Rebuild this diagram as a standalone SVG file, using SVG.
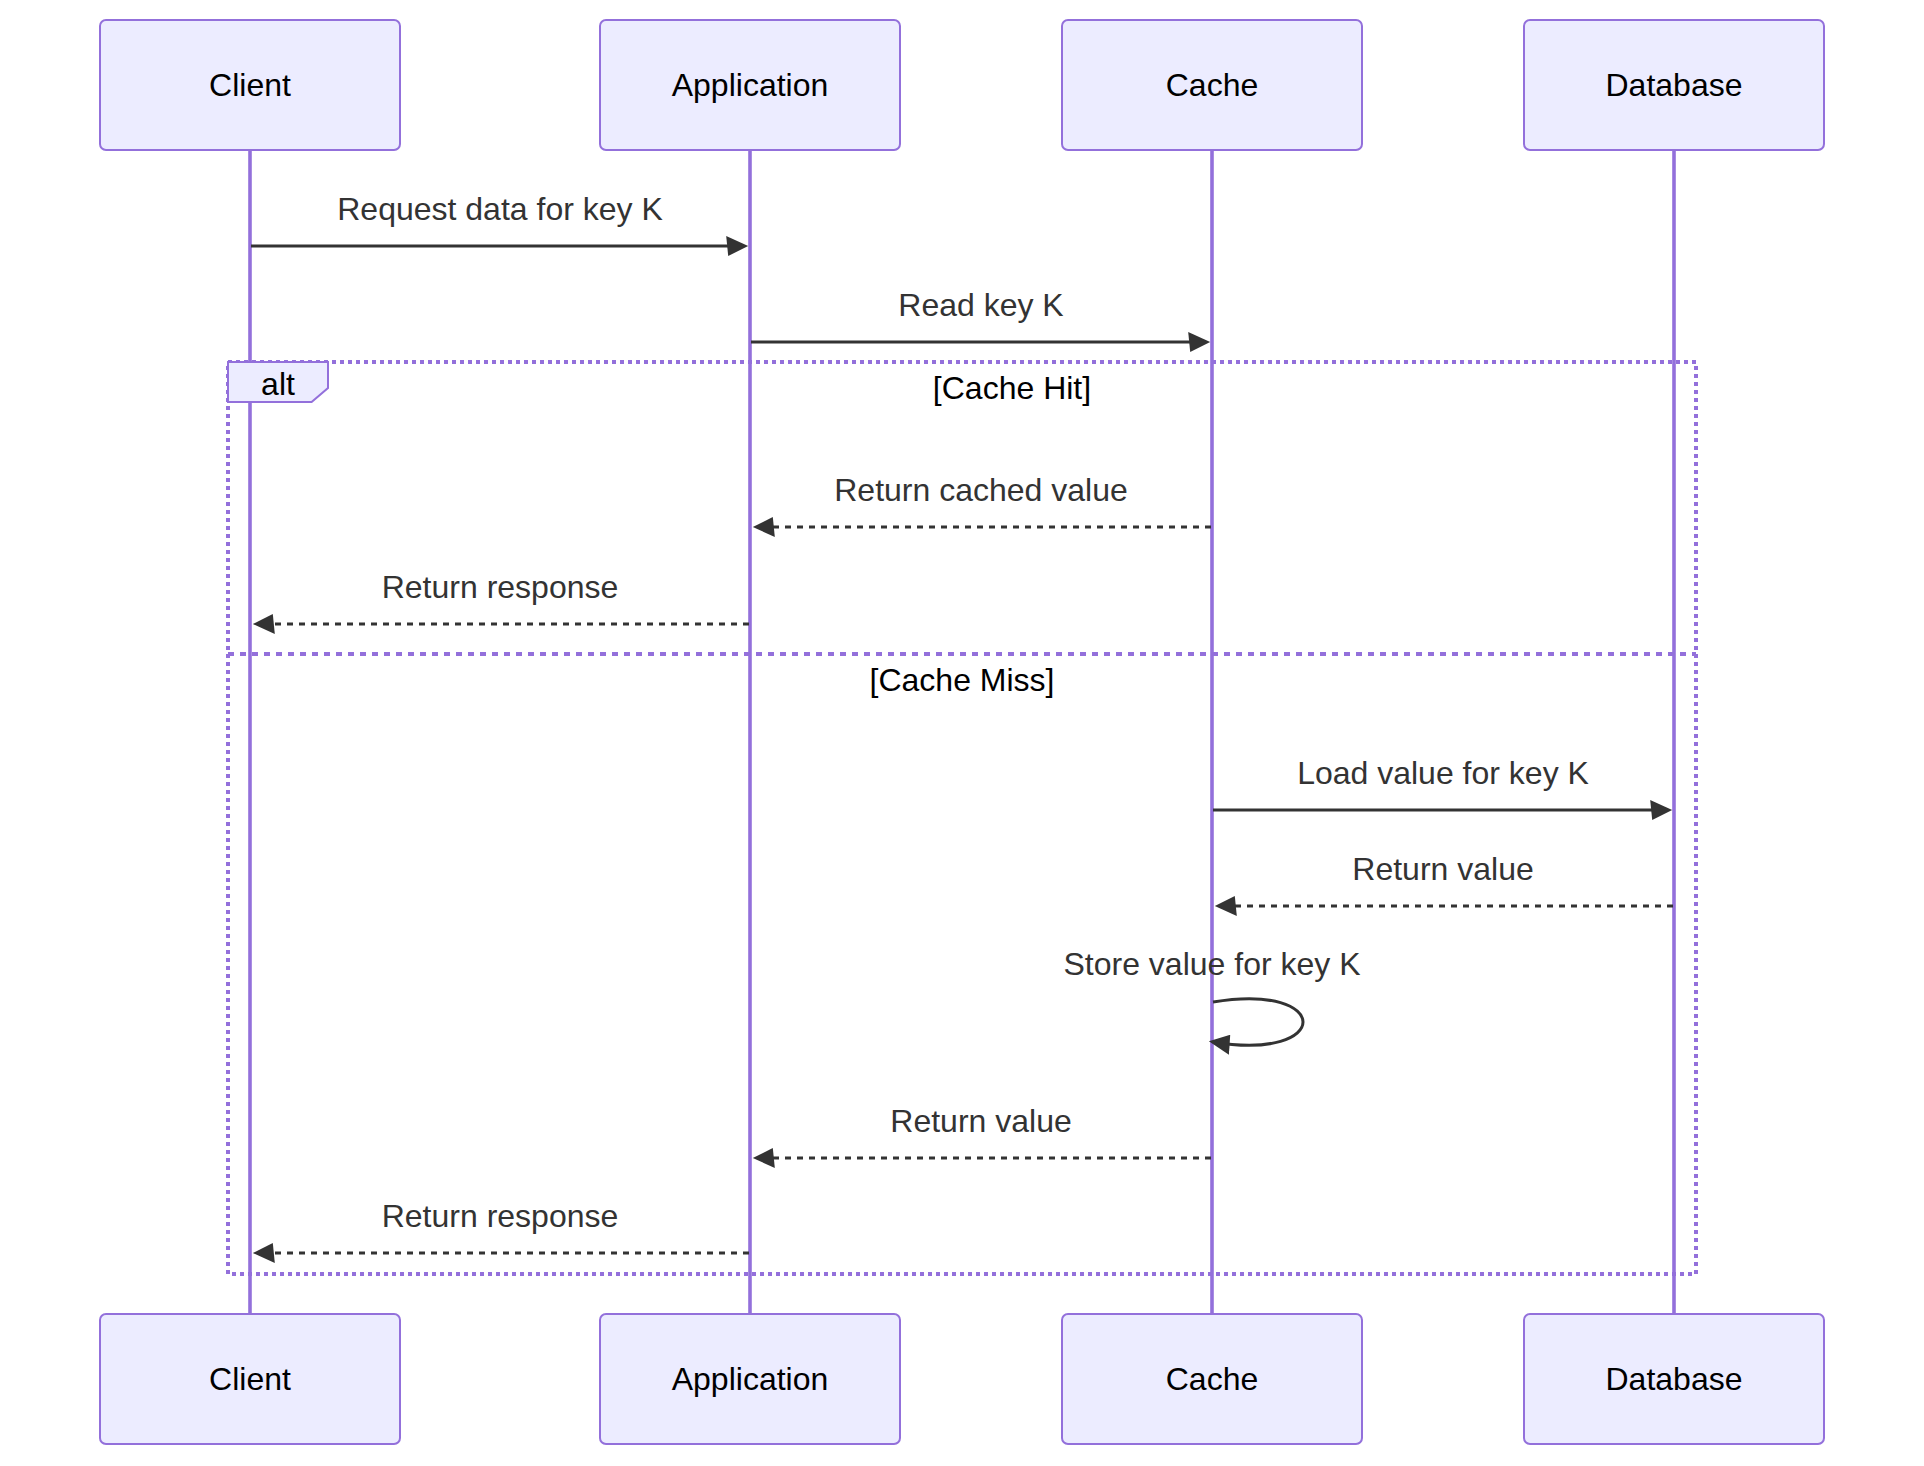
<svg xmlns="http://www.w3.org/2000/svg" width="1924" height="1466" viewBox="0 0 1924 1466">
<style>
.actor{fill:#ECECFF;stroke:#9370DB;stroke-width:2}
.alabel{font-family:"Liberation Sans",Arial,sans-serif;font-size:32px;fill:#000;text-anchor:middle;dominant-baseline:central}
.life{stroke:#9370DB;stroke-width:3.6}
.msg{stroke:#333;stroke-width:3;fill:none}
.dash{stroke-dasharray:6,6}
.mtext{font-family:"Liberation Sans",Arial,sans-serif;font-size:32px;fill:#333;text-anchor:middle}
.ltext{font-family:"Liberation Sans",Arial,sans-serif;font-size:32px;fill:#000;text-anchor:middle}
.loop{fill:none;stroke:#9370DB;stroke-width:4;stroke-dasharray:4,4}
.sep{fill:none;stroke:#9370DB;stroke-width:4;stroke-dasharray:6,6}
</style>
<defs>
<marker id="arr" markerUnits="userSpaceOnUse" markerWidth="24" markerHeight="20" viewBox="-2 0 24 20" refX="15.8" refY="10" orient="auto">
<path d="M -2 0 L 20 10 L 0 20 z" fill="#333"/>
</marker>
</defs>
<rect width="1924" height="1466" fill="#fff"/>
<g id="lifelines">
<line class="life" x1="250" y1="150" x2="250" y2="1314"/>
<line class="life" x1="750" y1="150" x2="750" y2="1314"/>
<line class="life" x1="1212" y1="150" x2="1212" y2="1314"/>
<line class="life" x1="1674" y1="150" x2="1674" y2="1314"/>
</g>
<g id="alt-frame">
<rect class="loop" x="228" y="362" width="1468" height="912"/>
<line class="sep" x1="228" y1="654" x2="1696" y2="654"/>
<polygon points="228,362 328,362 328,388 311.6,402 228,402" fill="#ECECFF" stroke="#9370DB" stroke-width="2"/>
<text class="alabel" x="278" y="384">alt</text>
<text class="ltext" x="1012" y="399">[Cache Hit]</text>
<text class="ltext" x="962" y="691">[Cache Miss]</text>
</g>
<g id="actor-client-top"><rect class="actor" x="100" y="20" width="300" height="130" rx="6"/><text class="alabel" x="250" y="85">Client</text></g>
<g id="actor-application-top"><rect class="actor" x="600" y="20" width="300" height="130" rx="6"/><text class="alabel" x="750" y="85">Application</text></g>
<g id="actor-cache-top"><rect class="actor" x="1062" y="20" width="300" height="130" rx="6"/><text class="alabel" x="1212" y="85">Cache</text></g>
<g id="actor-database-top"><rect class="actor" x="1524" y="20" width="300" height="130" rx="6"/><text class="alabel" x="1674" y="85">Database</text></g>
<g id="actor-client-bottom"><rect class="actor" x="100" y="1314" width="300" height="130" rx="6"/><text class="alabel" x="250" y="1379">Client</text></g>
<g id="actor-application-bottom"><rect class="actor" x="600" y="1314" width="300" height="130" rx="6"/><text class="alabel" x="750" y="1379">Application</text></g>
<g id="actor-cache-bottom"><rect class="actor" x="1062" y="1314" width="300" height="130" rx="6"/><text class="alabel" x="1212" y="1379">Cache</text></g>
<g id="actor-database-bottom"><rect class="actor" x="1524" y="1314" width="300" height="130" rx="6"/><text class="alabel" x="1674" y="1379">Database</text></g>
<g id="connectors">
<text class="mtext" x="500" y="220">Request data for key K</text>
<line class="msg" x1="251" y1="246" x2="744" y2="246" marker-end="url(#arr)"/>
<text class="mtext" x="981" y="316">Read key K</text>
<line class="msg" x1="751" y1="342" x2="1206" y2="342" marker-end="url(#arr)"/>
<text class="mtext" x="981" y="501">Return cached value</text>
<line class="msg dash" x1="1211" y1="527" x2="757" y2="527" marker-end="url(#arr)"/>
<text class="mtext" x="500" y="598">Return response</text>
<line class="msg dash" x1="749" y1="624" x2="257" y2="624" marker-end="url(#arr)"/>
<text class="mtext" x="1443" y="784">Load value for key K</text>
<line class="msg" x1="1213" y1="810" x2="1668" y2="810" marker-end="url(#arr)"/>
<text class="mtext" x="1443" y="880">Return value</text>
<line class="msg dash" x1="1673" y1="906" x2="1219" y2="906" marker-end="url(#arr)"/>
<text class="mtext" x="1212" y="975">Store value for key K</text>
<path class="msg" d="M 1213 1002 C 1333 982 1333 1062 1213 1042" marker-end="url(#arr)"/>
<text class="mtext" x="981" y="1132">Return value</text>
<line class="msg dash" x1="1211" y1="1158" x2="757" y2="1158" marker-end="url(#arr)"/>
<text class="mtext" x="500" y="1227">Return response</text>
<line class="msg dash" x1="749" y1="1253" x2="257" y2="1253" marker-end="url(#arr)"/>
</g>
</svg>
